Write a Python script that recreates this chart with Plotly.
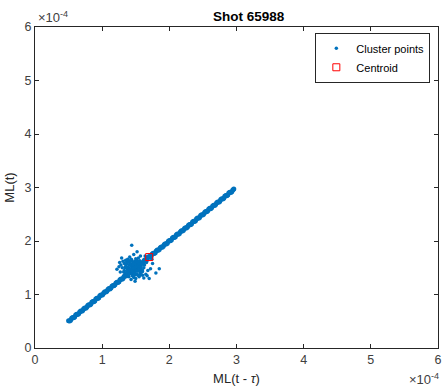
import plotly.graph_objects as go

# Values in units of 1e-4
band_x = [0.50,0.53,0.56,0.59,0.62,0.65,0.68,0.71,0.74,0.77,0.80,0.83,0.86,0.89,0.92,0.95,0.98,
          1.01,1.04,1.07,1.10,1.13,1.16,1.19,1.22,1.25,1.28,1.31,1.34,1.37,1.40,1.43,1.46,1.49,
          1.52,1.55,1.58,1.61,1.64,1.67,1.70,1.73,1.76,1.79,1.82,1.85,1.88,1.91,1.94,1.97,2.00,
          2.03,2.06,2.09,2.12,2.15,2.18,2.21,2.24,2.27,2.30,2.33,2.36,2.39,2.42,2.45,2.48,2.51,
          2.54,2.57,2.60,2.63,2.66,2.69,2.72,2.75,2.78,2.81,2.84,2.87,2.90,2.93,2.96]
band_y = [0.51,0.52,0.57,0.58,0.63,0.64,0.69,0.70,0.75,0.76,0.81,0.82,0.87,0.88,0.93,0.94,0.99,
          1.00,1.05,1.06,1.11,1.12,1.17,1.18,1.23,1.24,1.29,1.30,1.35,1.36,1.41,1.42,1.47,1.48,
          1.53,1.54,1.59,1.60,1.65,1.66,1.71,1.72,1.77,1.78,1.83,1.84,1.89,1.90,1.95,1.96,2.01,
          2.02,2.07,2.08,2.13,2.14,2.19,2.20,2.25,2.26,2.31,2.32,2.37,2.38,2.43,2.44,2.49,2.50,
          2.55,2.56,2.61,2.62,2.67,2.68,2.73,2.74,2.79,2.80,2.85,2.86,2.91,2.92,2.97]
band2_x = [0.515,0.545,0.575,0.605,0.635,0.665,0.695,0.725,0.755,0.785,0.815,0.845,0.875,0.905,
           0.935,0.965,0.995,1.025,1.055,1.085,1.115,1.145,1.175,1.205,1.235,1.265,1.295,1.325,
           1.355,1.385,1.415,1.445,1.475,1.505,1.535,1.565,1.595,1.625,1.655,1.685,1.715,1.745,
           1.775,1.805,1.835,1.865,1.895,1.925,1.955,1.985,2.015,2.045,2.075,2.105,2.135,2.165,
           2.195,2.225,2.255,2.285,2.315,2.345,2.375,2.405,2.435,2.465,2.495,2.525,2.555,2.585,
           2.615,2.645,2.675,2.705,2.735,2.765,2.795,2.825,2.855,2.885,2.915,2.945]
band2_y = [0.505,0.555,0.565,0.615,0.625,0.675,0.685,0.735,0.745,0.795,0.805,0.855,0.865,0.915,
           0.925,0.975,0.985,1.035,1.045,1.095,1.105,1.155,1.165,1.215,1.225,1.275,1.285,1.335,
           1.345,1.395,1.405,1.455,1.465,1.515,1.525,1.575,1.585,1.635,1.645,1.695,1.705,1.755,
           1.765,1.815,1.825,1.875,1.885,1.935,1.945,1.995,2.005,2.055,2.065,2.115,2.125,2.175,
           2.185,2.235,2.245,2.295,2.305,2.355,2.365,2.415,2.425,2.475,2.485,2.535,2.545,2.595,
           2.605,2.655,2.665,2.715,2.725,2.775,2.785,2.835,2.845,2.895,2.905,2.955]

cloud_x = [1.45,1.50,1.40,1.55,1.48,1.42,1.52,1.38,1.58,1.46,1.35,1.60,1.44,1.53,1.41,1.49,1.37,
           1.56,1.47,1.43,1.51,1.39,1.54,1.62,1.33,1.46,1.50,1.44,1.57,1.36,1.48,1.41,1.53,1.65,
           1.30,1.45,1.52,1.40,1.59,1.47,1.28,1.68,1.43,1.55,1.38,1.50,1.34,1.61,1.46,1.42,1.72,
           1.25,1.49,1.57,1.39,1.85,1.52,1.66,1.44,1.31,1.47,1.41,1.54,1.36,1.49,1.58,1.44,1.51,
           1.39,1.63,1.46,1.53,1.42,1.48,1.56,1.37,1.50,1.45,1.40,1.60,
           1.32,1.36,1.40,1.44,1.48,1.52,1.56,1.60,1.34,1.38,1.42,1.46,1.50,1.54,1.58,1.33,1.37,
           1.41,1.45,1.49,1.53,1.57,1.35,1.39,1.43,1.47,1.51,1.55,1.59,1.36,1.40,1.44,1.48,1.52,
           1.56,1.42,1.46,1.50,1.54,1.27,1.22,1.75,1.80,1.70,1.64,1.29,1.62,1.67,1.26,1.74]
cloud_y = [1.50,1.45,1.55,1.48,1.58,1.42,1.60,1.47,1.52,1.38,1.53,1.43,1.65,1.36,1.40,1.52,1.62,
           1.57,1.32,1.47,1.55,1.35,1.68,1.50,1.45,1.61,1.30,1.56,1.40,1.58,1.44,1.70,1.50,1.38,
           1.50,1.35,1.63,1.49,1.60,1.75,1.55,1.45,1.28,1.33,1.66,1.53,1.40,1.57,1.46,1.62,1.48,
           1.52,1.25,1.72,1.43,1.48,1.80,1.60,1.92,1.62,1.54,1.46,1.44,1.51,1.59,1.47,1.42,1.57,
           1.40,1.55,1.49,1.52,1.58,1.37,1.63,1.43,1.67,1.53,1.61,1.36,
           1.42,1.40,1.38,1.41,1.36,1.39,1.44,1.46,1.50,1.51,1.48,1.49,1.52,1.47,1.56,1.58,1.57,
           1.60,1.55,1.62,1.59,1.52,1.64,1.63,1.66,1.58,1.64,1.61,1.42,1.35,1.33,1.44,1.40,1.45,
           1.36,1.54,1.56,1.39,1.57,1.42,1.47,1.58,1.40,1.30,1.72,1.68,1.31,1.35,1.60,1.66]

centroid_x = [1.70]
centroid_y = [1.70]

ticks = [0, 1, 2, 3, 4, 5, 6]
tick_labels = ["0", "1", "2", "3", "4", "5", "6"]

blue = "#0072BD"
axis_col = "#262626"
font_fam = "Liberation Sans, Arial, sans-serif"

fig = go.Figure()
fig.add_trace(go.Scatter(x=band_x + band2_x, y=band_y + band2_y, mode="markers", showlegend=False,
                         marker=dict(color=blue, size=5, line=dict(width=0))))
fig.add_trace(go.Scatter(x=cloud_x, y=cloud_y, mode="markers", showlegend=False,
                         marker=dict(color=blue, size=3.5, line=dict(width=0))))
fig.add_trace(go.Scatter(x=[None], y=[None], mode="markers", name="Cluster points",
                         marker=dict(color=blue, size=3.5)))
fig.add_trace(go.Scatter(x=centroid_x, y=centroid_y, mode="markers", name="Centroid",
                         marker=dict(symbol="square-open", color="#FF0000", size=7,
                                     line=dict(width=1))))

axis_common = dict(range=[0, 6], tickvals=ticks, ticktext=tick_labels, showgrid=False,
                   zeroline=False, showline=True, linecolor=axis_col, linewidth=1,
                   mirror="ticks", ticks="inside", ticklen=4, tickcolor=axis_col,
                   tickfont=dict(size=12.5, color="#404040", family=font_fam))

fig.update_xaxes(**axis_common,
                 title=dict(text="ML(t - <i>τ</i>)", font=dict(size=13, color="#262626", family=font_fam),
                            standoff=7))
fig.update_yaxes(**axis_common,
                 title=dict(text="ML(t)", font=dict(size=13, color="#262626", family=font_fam),
                            standoff=6))

fig.update_layout(
    width=446, height=390,
    margin=dict(l=35, r=4, t=27, b=42),
    paper_bgcolor="white", plot_bgcolor="white",
    title=dict(text="<b>Shot 65988</b>", x=0.53, xanchor="center", y=0.957, yanchor="middle",
               xref="paper", font=dict(size=13.5, color="#000000", family=font_fam)),
    legend=dict(x=0.981, y=0.982, xanchor="right", yanchor="top",
                bgcolor="white", bordercolor=axis_col, borderwidth=1,
                font=dict(size=11, color="#000000", family=font_fam),
                tracegroupgap=0, itemwidth=30),
    annotations=[
        dict(text="×10<sup>-4</sup>", xref="paper", yref="paper", x=0.0, y=1.0,
             xanchor="left", yanchor="bottom", showarrow=False, xshift=1,
             font=dict(size=13, color="#404040", family=font_fam)),
        dict(text="×10<sup>-4</sup>", xref="paper", yref="paper", x=1.0, y=0.0,
             xanchor="right", yanchor="top", showarrow=False, yshift=-21, xshift=3,
             font=dict(size=13, color="#404040", family=font_fam)),
    ],
)

fig.write_html("out.html")
